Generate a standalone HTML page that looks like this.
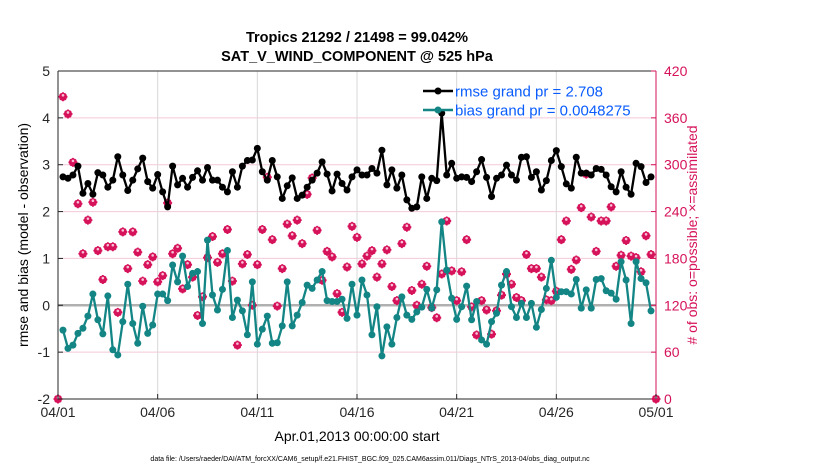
<!DOCTYPE html>
<html><head><meta charset="utf-8"><style>
body{margin:0;background:#fff;}
svg{display:block;font-family:"Liberation Sans",Arial,sans-serif;}
</style></head><body>
<svg id="chart" width="830" height="470" viewBox="0 0 830 470" xmlns="http://www.w3.org/2000/svg">
<rect x="0" y="0" width="830" height="470" fill="#fff"/>
<text x="357" y="42" text-anchor="middle" font-size="14.5" font-weight="bold">Tropics 21292 / 21498 = 99.042%</text>
<text x="357" y="61" text-anchor="middle" font-size="14.5" font-weight="bold">SAT_V_WIND_COMPONENT @ 525 hPa</text>
<g id="grid"></g>
<g id="series"></g>
<g id="axes"></g>
<text transform="translate(28,235) rotate(-90)" text-anchor="middle" font-size="14">rmse and bias (model - observation)</text>
<text transform="translate(697,235) rotate(-90)" text-anchor="middle" font-size="14" fill="#d6125a">#  of obs: o=possible; ×=assimilated</text>
<text x="357" y="441" text-anchor="middle" font-size="14">Apr.01,2013 00:00:00 start</text>
<text x="370" y="461" text-anchor="middle" font-size="7">data file: /Users/raeder/DAI/ATM_forcXX/CAM6_setup/f.e21.FHIST_BGC.f09_025.CAM6assim.011/Diags_NTrS_2013-04/obs_diag_output.nc</text>
<g id="legend">
<line x1="423" y1="91" x2="453" y2="91" stroke="#000" stroke-width="2.5"/><circle cx="438" cy="91" r="3.5" fill="#000"/>
<text x="455" y="96.5" font-size="15" fill="#0a5cff">rmse grand pr = 2.708</text>
<line x1="423" y1="110" x2="453" y2="110" stroke="#138585" stroke-width="2.5"/><circle cx="438" cy="110" r="3.5" fill="#138585"/>
<text x="455" y="115.5" font-size="15" fill="#0a5cff">bias grand pr = 0.0048275</text>
</g>
</svg>
<script>
const rmse=[2.74,2.71,2.78,2.97,2.39,2.60,2.37,2.83,2.78,2.52,2.67,3.17,2.78,2.45,2.67,2.91,3.14,2.64,2.50,2.79,2.42,2.10,2.97,2.57,2.71,2.52,2.73,2.87,2.67,2.94,2.67,2.67,2.52,2.42,2.85,2.52,2.97,3.09,3.10,3.35,2.85,2.67,3.09,2.74,2.28,2.55,2.72,2.28,2.35,2.52,2.67,2.82,3.06,2.80,2.44,2.80,2.60,2.46,2.74,
2.89,2.78,2.78,2.92,2.82,3.31,2.57,2.89,2.50,2.78,2.25,2.07,2.10,2.74,2.28,2.71,2.66,4.10,2.78,3.03,2.71,2.74,2.73,2.64,2.85,3.11,2.73,2.32,2.71,2.78,2.99,2.78,2.67,3.16,3.17,2.73,2.85,2.46,2.66,3.09,3.30,2.96,2.59,2.50,3.16,2.82,2.82,2.78,2.92,2.90,2.78,2.53,2.42,2.85,2.52,2.37,3.03,2.96,2.62,2.74];
const bias=[-0.53,-0.92,-0.85,-0.60,-0.49,-0.23,0.24,-0.31,-0.61,0.20,-0.95,-1.06,-0.35,0.45,-0.39,-0.81,-0.02,-0.60,-0.42,0.24,0.24,0.10,0.86,0.50,1.05,0.40,0.68,0.72,-0.39,1.39,0.22,-0.10,0.34,1.17,-0.26,0.11,-0.12,-0.63,0.50,-0.83,-0.51,-0.23,-0.81,-0.80,-0.44,0.50,-0.44,-0.21,0.06,0.43,0.36,0.54,0.72,0.10,0.08,0.08,0.13,-0.28,0.45,
-0.21,0.54,0.22,-0.63,-0.03,-1.08,-0.46,-0.83,-0.26,0.18,-0.21,-0.30,-0.14,-0.04,0.34,-0.06,0.33,1.78,0.75,0.15,-0.30,-0.03,0.41,-0.31,0.08,-0.74,-0.83,-0.35,-0.17,0.43,0.72,-0.03,-0.26,0.04,-0.26,0.04,-0.47,-0.09,0.36,0.96,0.17,0.29,0.29,0.24,0.55,-0.06,0.33,-0.06,0.55,0.57,0.31,0.26,0.13,0.93,0.54,-0.39,0.93,0.57,0.48,-0.12];
const obsCount=[387,365,303,250,186,229,252,190,153,195,195,111,214,167,214,188,151,172,182,150,158,251,186,193,141,172,156,107,131,181,208,175,186,217,151,69,173,185,120,172,217,284,204,119,167,224,209,229,199,262,283,216,152,189,182,135,111,169,221,
207,173,183,190,156,173,191,144,126,199,220,139,120,147,170,117,104,160,228,164,126,163,204,118,82,126,114,83,113,133,160,147,130,126,185,167,167,156,127,126,138,204,228,166,178,245,288,233,189,228,228,246,170,184,203,183,181,163,209,185];
const xTickLabels=["04/01","04/06","04/11","04/16","04/21","04/26","05/01"];
const xTickDays=[0,5,10,15,20,25,30];
const yLeftTicks=[-2,-1,0,1,2,3,4,5];
const yRightTicks=[0,60,120,180,240,300,360,420];

const L=58,R=656,T=71,B=399;
const NS="http://www.w3.org/2000/svg";
const xs=d=>L+(d/30)*(R-L);
const yl=v=>B-(v+2)/7*(B-T);
const yr=c=>B-c/420*(B-T);
const dayOf=i=>(i+1)*0.25;
function mk(tag,attrs,parent){const e=document.createElementNS(NS,tag);for(const k in attrs)e.setAttribute(k,attrs[k]);parent.appendChild(e);return e;}
const grid=document.getElementById('grid'),ser=document.getElementById('series'),ax=document.getElementById('axes');

yLeftTicks.forEach(v=>{const g=mk('line',{x1:L,x2:R,y1:yl(v),y2:yl(v),stroke:'#f4c8d8','stroke-width':1},grid);

});
xTickDays.forEach(d=>{const g=mk('line',{x1:xs(d),x2:xs(d),y1:T,y2:B,stroke:'#d8d8d8','stroke-width':1},grid);

});
const z=mk('line',{x1:L,x2:R,y1:yl(0),y2:yl(0),stroke:'#b0b0b0','stroke-width':2.5},grid);



function star(cx,cy,parent){const g=mk('g',{},parent);


mk('circle',{cx:cx,cy:cy,r:4,fill:'#d6125a'},g);
mk('path',{d:`M${cx-4.5} ${cy}H${cx+4.5}M${cx} ${cy-4.5}V${cy+4.5}M${cx-3} ${cy-3}L${cx+3} ${cy+3}M${cx-3} ${cy+3}L${cx+3} ${cy-3}`,stroke:'#d6125a','stroke-width':1.8},g);
mk('circle',{cx:cx,cy:cy-1.5,r:1.3,fill:'#f8c0d4'},g);}
obsCount.forEach((c,i)=>star(xs(dayOf(i)),yr(c),ser));
star(xs(0),yr(0),ser);star(xs(30),yr(0),ser);

function line(vals,color,name){
 const pts=vals.map((v,i)=>xs(dayOf(i)).toFixed(1)+','+yl(v).toFixed(1)).join(' ');
 const p=mk('polyline',{points:pts,fill:'none',stroke:color,'stroke-width':2.3,'stroke-linejoin':'round'},ser);
 
 
 vals.forEach((v,i)=>{const c=mk('circle',{cx:xs(dayOf(i)),cy:yl(v),r:3.5,fill:color},ser);
 
 });
}
line(bias,'#138585','bias');
line(rmse,'#000000','rmse');

const fr=mk('path',{d:`M${L} ${T}H${R}M${L} ${T}V${B}H${R}`,fill:'none',stroke:'#262626','stroke-width':1},ax);


const ra=mk('line',{x1:R,x2:R,y1:T,y2:B,stroke:'#d6125a','stroke-width':1},ax);


yLeftTicks.forEach(v=>{mk('line',{x1:L,x2:L+5,y1:yl(v),y2:yl(v),stroke:'#262626'},ax);
const t=mk('text',{x:L-8,y:yl(v)+5,'text-anchor':'end','font-size':14,fill:'#262626'},ax);t.textContent=v;

});
yRightTicks.forEach(c=>{mk('line',{x1:R-5,x2:R,y1:yr(c),y2:yr(c),stroke:'#d6125a'},ax);
const t=mk('text',{x:R+8,y:yr(c)+5,'font-size':14,fill:'#d6125a'},ax);t.textContent=c;

});
xTickDays.forEach((d,i)=>{mk('line',{x1:xs(d),x2:xs(d),y1:B,y2:B-5,stroke:'#262626'},ax);
const t=mk('text',{x:xs(d),y:B+18,'text-anchor':'middle','font-size':14,fill:'#262626'},ax);t.textContent=xTickLabels[i];

});
</script>
</body></html>
